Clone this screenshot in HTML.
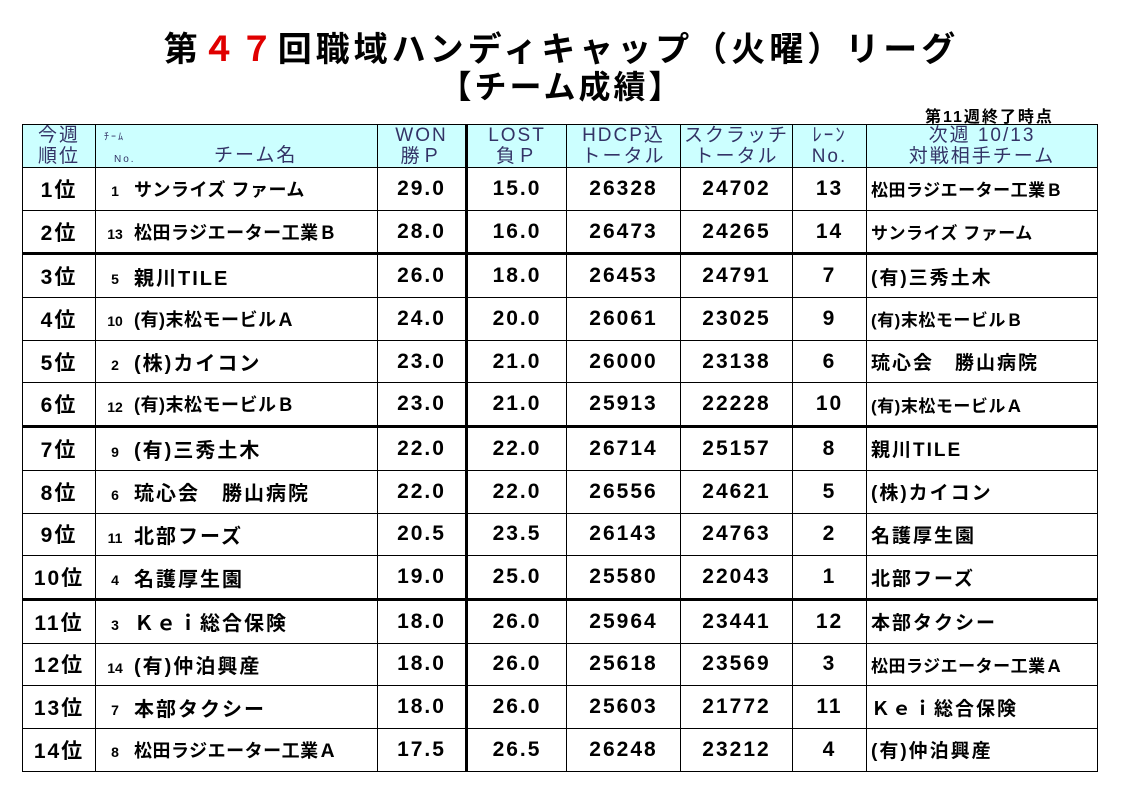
<!DOCTYPE html>
<html><head><meta charset="utf-8"><style>
body{margin:0;width:1123px;height:794px;background:#fff;font-family:"Liberation Sans","Noto Sans CJK JP",sans-serif;position:relative;overflow:hidden}
.t1{position:absolute;left:0;width:1123px;text-align:center;font-weight:bold;font-size:34px;top:22px;letter-spacing:4px}
.t2{position:absolute;left:0;width:1123px;text-align:center;font-weight:bold;font-size:32px;top:62px;letter-spacing:3px}
.sub{position:absolute;left:925px;top:103px;font-size:16px;font-weight:bold;letter-spacing:2px}
table{position:absolute;left:22px;top:124px;border-collapse:collapse;table-layout:fixed}
td{border:1.5px solid #000;padding:0;font-size:21px;font-weight:bold;text-align:center;height:41.7px;white-space:nowrap;overflow:hidden;letter-spacing:2px}
tr.h td{background:#ccffff;height:42px;font-size:19px;font-weight:normal;color:#333366;line-height:21px;letter-spacing:2px}
td.nm{text-align:left;font-size:19px}
td.op{text-align:left;font-size:18px;padding-left:4px;letter-spacing:1px}
td.nm span{display:inline-block;width:38px;text-align:center;font-size:14px;letter-spacing:0;vertical-align:middle}
tr.tk td{border-top:3px solid #000}
td.lb{border-left:3px solid #000}
</style></head><body>
<div class="t1">第<span style="color:#e00000">４７</span>回職域ハンディキャップ（火曜）リーグ</div>
<div class="t2">【チーム成績】</div>
<div class="sub">第11週終了時点</div>
<table>
<colgroup><col style="width:73px"><col style="width:282px"><col style="width:89px"><col style="width:100px"><col style="width:114px"><col style="width:112px"><col style="width:74px"><col style="width:231px"></colgroup>
<tr class="h"><td>今週<br>順位</td><td style="text-align:left;position:relative"><span style="position:absolute;left:8px;top:2px;font-size:10px">ﾁｰﾑ</span><span style="position:absolute;left:18px;top:24px;font-size:10px">No.</span><span style="position:absolute;left:118px;top:20px">チーム名</span></td><td>WON<br>勝Ｐ</td><td class="lb">LOST<br>負Ｐ</td><td>HDCP込<br>トータル</td><td>スクラッチ<br>トータル</td><td>ﾚｰﾝ<br>No.</td><td>次週 10/13<br>対戦相手チーム</td></tr>
<tbody id="tb"></tbody>
</table>
<script>
const ranks=["1位","2位","3位","4位","5位","6位","7位","8位","9位","10位","11位","12位","13位","14位"];
const teamNo=[1,13,5,10,2,12,9,6,11,4,3,14,7,8];
const teams=["サンライズ ファーム","松田ラジエーター工業Ｂ","親川TILE","(有)末松モービルＡ","(株)カイコン","(有)末松モービルＢ","(有)三秀土木","琉心会　勝山病院","北部フーズ","名護厚生園","Ｋｅｉ総合保険","(有)仲泊興産","本部タクシー","松田ラジエーター工業Ａ"];
const won=["29.0","28.0","26.0","24.0","23.0","23.0","22.0","22.0","20.5","19.0","18.0","18.0","18.0","17.5"];
const lost=["15.0","16.0","18.0","20.0","21.0","21.0","22.0","22.0","23.5","25.0","26.0","26.0","26.0","26.5"];
const hdcp=[26328,26473,26453,26061,26000,25913,26714,26556,26143,25580,25964,25618,25603,26248];
const scratch=[24702,24265,24791,23025,23138,22228,25157,24621,24763,22043,23441,23569,21772,23212];
const lane=[13,14,7,9,6,10,8,5,2,1,12,3,11,4];
const opp=["松田ラジエーター工業Ｂ","サンライズ ファーム","(有)三秀土木","(有)末松モービルＢ","琉心会　勝山病院","(有)末松モービルＡ","親川TILE","(株)カイコン","名護厚生園","北部フーズ","本部タクシー","松田ラジエーター工業Ａ","Ｋｅｉ総合保険","(有)仲泊興産"];
const tb=document.getElementById('tb');
ranks.forEach((r,i)=>{
  const tr=document.createElement('tr');
  
  
  if(i==2||i==6||i==10) tr.className='tk';
  const long=teams[i].length>9;
  const nmStyle=long?'font-size:18px;letter-spacing:0.5px':'font-size:20px;letter-spacing:2px';
  const opStyle=opp[i].length>9?'font-size:17px;letter-spacing:0.5px':'font-size:19px;letter-spacing:2px';
  tr.innerHTML=`<td>${r}</td><td class="nm" style="${nmStyle}"><span>${teamNo[i]}</span>${teams[i]}</td><td>${won[i]}</td><td class="lb">${lost[i]}</td><td>${hdcp[i]}</td><td>${scratch[i]}</td><td>${lane[i]}</td><td class="op" style="${opStyle}">${opp[i]}</td>`;
  tb.appendChild(tr);
});
</script>
</body></html>
